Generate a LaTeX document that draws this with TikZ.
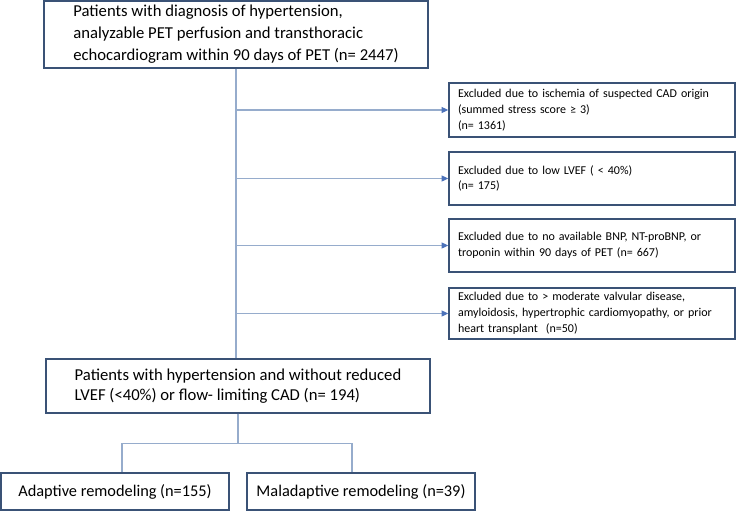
\documentclass[tikz,border=0pt]{standalone}
\usepackage{fontspec}
\setmainfont{Carlito}
\usetikzlibrary{arrows.meta,positioning,calc}
\definecolor{flowedge}{RGB}{58,82,118}
\definecolor{flowline}{RGB}{150,172,204}
\definecolor{flowarrow}{RGB}{76,114,186}
\tikzset{
  block/.style={
    rectangle, draw=flowedge, line width=1.1pt, fill=white,
    minimum width=288pt, align=left,
    font=\fontsize{12.5}{16.5}\selectfont
  },
  blockX/.style={
    block, minimum width=0pt, text width=201pt, inner xsep=6.75pt,
    font=\fontsize{9}{11.8}\selectfont
  },
  blockS/.style={
    block, minimum width=171pt, minimum height=27.75pt, align=center,
    font=\fontsize{12.25}{14}\selectfont
  },
  link/.style={draw=flowline, line width=0.8pt},
  arrowB/.style={link, -{Triangle[length=5pt, width=4.5pt, color=flowarrow]}}
}

\begin{document}
\begin{tikzpicture}[x=0.75pt, y=-0.75pt]
  \useasboundingbox (0,0) rectangle (736,511);

  \node[block, minimum height=50.25pt] (pop) at (236,34.5)
    {Patients with diagnosis of hypertension,\\
     analyzable PET perfusion and transthoracic\\
     echocardiogram within 90 days of PET (n= 2447)};

  \node[blockX, minimum height=40.5pt] (ssc) at (592,110)
    {Excluded due to ischemia of suspected CAD origin\\
     (summed stress score ≥ 3)\\
     (n= 1361)};
  \node[blockX, minimum height=39.75pt] (lvef) at (592,178.5)
    {Excluded due to low LVEF ( < 40\%)\\
     (n= 175)};
  \node[blockX, minimum height=39.75pt] (bnp) at (592,245.5)
    {Excluded due to no available BNP, NT-proBNP, or\\
     troponin within 90 days of PET (n= 667)};
  \node[blockX, minimum height=38.25pt] (valv) at (592,313.5)
    {Excluded due to > moderate valvular disease,\\
     amyloidosis, hypertrophic cardiomyopathy, or prior\\
     heart transplant\ \ (n=50)};

  \node[block, minimum height=40.5pt, font=\fontsize{12.5}{15}\selectfont]
    (cohort) at (238,386)
    {Patients with hypertension and without reduced\\
     LVEF (<40\%) or flow- limiting CAD (n= 194)};

  \node[blockS] (adapt) at (115,491.5) {Adaptive remodeling (n=155)};
  \node[blockS] (malad) at (361,491.5) {Maladaptive remodeling (n=39)};

  % trunk and exclusions
  \draw[link] (pop.south) -- (pop.south |- cohort.north);
  \foreach \e in {ssc,lvef,bnp,valv}
    \draw[arrowB] (pop.south |- \e.west) -- (\e.west);

  % split into groups
  \draw[link] (cohort.south) -- ++(0,30) -| ([xshift=5.25pt]adapt.north);
  \draw[link] (cohort.south) -- ++(0,30) -| ([xshift=-6.75pt]malad.north);
\end{tikzpicture}
\end{document}
